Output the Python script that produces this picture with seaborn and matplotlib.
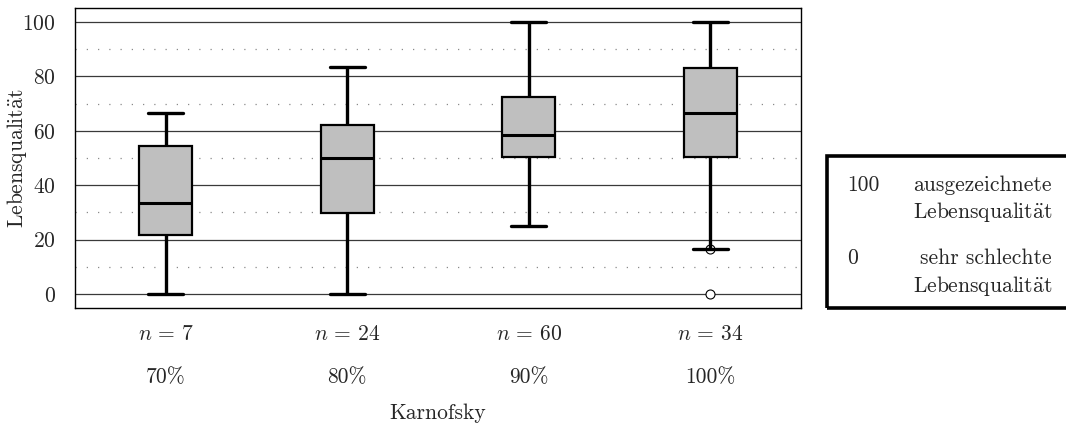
import numpy as np
import pandas as pd
import matplotlib
matplotlib.use("Agg")
import matplotlib.pyplot as plt
import seaborn as sns
from matplotlib.ticker import MultipleLocator
from matplotlib.patches import Rectangle

# ---- data (five-number summaries) ----
categories = ["70%", "80%", "90%", "100%"]
n_labels = [r"$n\,=\,7$", r"$n\,=\,24$", r"$n\,=\,60$", r"$n\,=\,34$"]
k70 = [0.0, 21.8, 33.5, 54.3, 66.7]
k80 = [0.0, 29.7, 50.0, 62.1, 83.3]
k90 = [25.0, 50.5, 58.3, 72.5, 100.0]
k100 = [16.7, 50.5, 66.7, 83.0, 100.0]
outlier_cat = ["100%", "100%"]
outlier_val = [16.7, 0.0]

LQ = r"Lebensqualit$\ddot{\mathrm{a}}$t"
legend_rows = [("100", "ausgezeichnete", LQ),
               ("0", "sehr schlechte", LQ)]

df = pd.DataFrame({
    "Karnofsky": [c for c, v in zip(categories, [k70, k80, k90, k100]) for _ in v],
    "Lebensqualität": k70 + k80 + k90 + k100,
})
df_out = pd.DataFrame({"Karnofsky": outlier_cat, "Lebensqualität": outlier_val})

sns.set_theme(style="white")
plt.rcParams["font.family"] = ["cmr10", "DejaVu Serif"]
plt.rcParams["mathtext.fontset"] = "cm"
plt.rcParams["axes.formatter.use_mathtext"] = True

FS = 15.5
fig = plt.figure(figsize=(10.66, 4.26), dpi=100)
ax = fig.add_axes([75 / 1066, 1 - 308 / 426, 726 / 1066, 300 / 426])

sns.boxplot(data=df, x="Karnofsky", y="Lebensqualität", order=categories,
            whis=(0, 100), width=0.29, color="#bfbfbf", saturation=1,
            linecolor="black", linewidth=2.0,
            boxprops=dict(linewidth=1.6),
            whiskerprops=dict(linewidth=2.4),
            capprops=dict(linewidth=2.4),
            medianprops=dict(linewidth=2.2),
            ax=ax, zorder=3)
# shorten caps to match
for line in ax.lines:
    xd = np.asarray(line.get_xdata(), dtype=float)
    yd = np.asarray(line.get_ydata(), dtype=float)
    if len(xd) == 2 and yd[0] == yd[1]:
        c = xd.mean()
        w = abs(xd[1] - xd[0])
        if w < 0.27:
            line.set_xdata([c - 0.097, c + 0.097])

sns.scatterplot(data=df_out, x="Karnofsky", y="Lebensqualität", ax=ax,
                marker="o", s=42, facecolor="white", edgecolor="black",
                linewidth=0.8, zorder=2.5)

ax.set_xlim(-0.5, 3.5)
ax.set_ylim(-5.1, 105.1)
ax.yaxis.set_major_locator(MultipleLocator(20))
ax.yaxis.set_minor_locator(MultipleLocator(10))
ax.grid(axis="y", which="major", color="#3a3a3a", linewidth=0.9, linestyle="-", zorder=0)
ax.grid(axis="y", which="minor", color="#8a8a8a", linewidth=0.9, linestyle=(0, (1, 8)), zorder=0)
ax.set_axisbelow(True)
ax.tick_params(axis="both", which="both", length=0, labelsize=FS)
ax.tick_params(axis="y", pad=14)
ax.tick_params(axis="x", pad=12)
ax.set_xticks(range(len(categories)))
ax.set_xticklabels(n_labels, fontsize=FS)
for i, c in enumerate(categories):
    ax.text(i, (308 - 383) / 300, c, transform=ax.get_xaxis_transform(),
            ha="center", va="baseline", fontsize=FS)

for s in ax.spines.values():
    s.set_color("black")
    s.set_linewidth(1.0)

ax.set_xlabel("Karnofsky", fontsize=FS)
ax.xaxis.set_label_coords(0.5, (308 - 419) / 300)
ax.xaxis.label.set_va("baseline")
ax.set_ylabel(LQ, fontsize=FS)
ax.yaxis.set_label_coords((29 - 75) / 726, 0.5)

# legend-like box
rect = Rectangle((827 / 1066, 1 - 308 / 426), 0.3, (308 - 156) / 426,
                 transform=fig.transFigure, fill=False, edgecolor="black",
                 linewidth=2.6, clip_on=False)
fig.patches.append(rect)
base = [(191, 218), (264, 292)]
for (num, l1, l2), (b1, b2) in zip(legend_rows, base):
    fig.text(847 / 1066, 1 - b1 / 426, num, ha="left", va="baseline", fontsize=FS)
    fig.text(1052 / 1066, 1 - b1 / 426, l1, ha="right", va="baseline", fontsize=FS)
    fig.text(1052 / 1066, 1 - b2 / 426, l2, ha="right", va="baseline", fontsize=FS)

fig.savefig("out.png", dpi=100)
